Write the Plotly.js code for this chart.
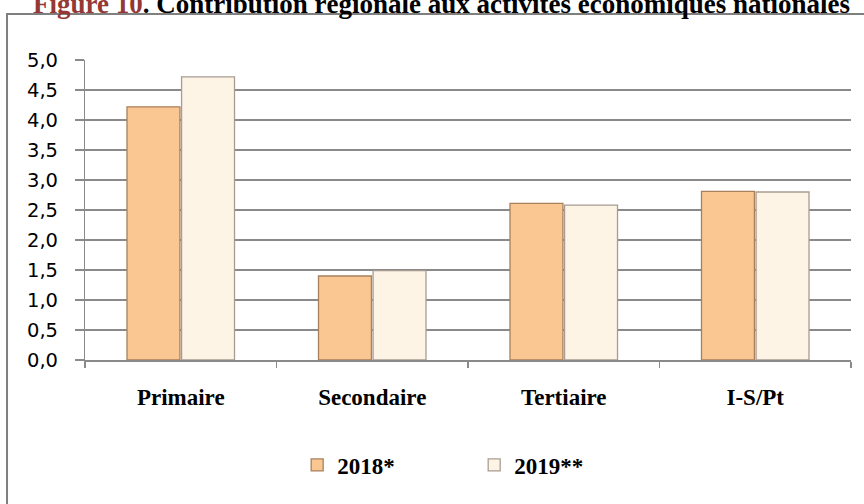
<!DOCTYPE html>
<html><head><meta charset="utf-8">
<script src="https://cdn.plot.ly/plotly-3.0.1.min.js"></script>
<style>html,body{margin:0;padding:0;background:#fff}#chart{width:864px;height:504px}</style>
</head><body><div id="chart"></div>
<script>
const categories = ["Primaire", "Secondaire", "Tertiaire", "I-S/Pt"];
const values2018 = [4.22, 1.40, 2.61, 2.81];
const values2019 = [4.72, 1.49, 2.58, 2.80];
const seriesNames = ["2018*", "2019**"];
const yTicks = [0, 0.5, 1, 1.5, 2, 2.5, 3, 3.5, 4, 4.5, 5];
const yTickLabels = yTicks.map(v => v.toFixed(1).replace('.', ','));

const traces = [
  {type:'bar', name:'<b>' + seriesNames[0] + '</b>', x:categories, y:values2018,
   marker:{color:'#FAC792', line:{color:'#A8805C', width:1.3}}, hoverinfo:'y'},
  {type:'bar', name:'<b>' + seriesNames[1] + '</b>', x:categories, y:values2019,
   marker:{color:'#FDF4E6', line:{color:'#A89C92', width:1.3}}, hoverinfo:'y'}
];
const tickAnnotations = yTicks.map((v, i) => ({
  xref:'paper', yref:'y', x:-0.0326, y:v, xanchor:'right', yanchor:'middle', showarrow:false,
  text:yTickLabels[i], font:{family:'DejaVu Sans, sans-serif', size:19.5, color:'#000'}
}));
const layout = {
  width:864, height:504,
  margin:{l:85, r:13, t:60, b:144},
  paper_bgcolor:'#fff', plot_bgcolor:'#fff',
  separators:',.',
  barmode:'group', bargap:0.43, bargroupgap:0.03,
  showlegend:true,
  legend:{orientation:'h', x:0.277, xanchor:'left', y:-0.35, yanchor:'middle',
          entrywidth:132, entrywidthmode:'pixels', itemwidth:20,
          font:{family:'Liberation Serif, Times New Roman, serif', size:23, color:'#000'}},
  xaxis:{showline:true, linecolor:'#8a8a8a', linewidth:1.5, ticks:'outside', tickson:'boundaries',
         ticklen:6, tickcolor:'#8a8a8a', tickwidth:1.5, showgrid:false, ticklabelstandoff:16,
         tickfont:{family:'Liberation Serif, Times New Roman, serif', size:23, color:'#000'},
         tickprefix:'<b>', ticksuffix:'</b>'},
  yaxis:{range:[0,5], tickvals:yTicks, showticklabels:false, showline:true, linecolor:'#8a8a8a', linewidth:1.5,
         ticks:'outside', ticklen:9, tickcolor:'#8a8a8a', tickwidth:1.5,
         showgrid:true, gridcolor:'#8a8a8a', gridwidth:1.5, zeroline:false},
  shapes:[{type:'rect', xref:'paper', yref:'paper', x0:-0.1018, x1:1.03, y0:-0.5, y1:1.1533,
           line:{color:'#7f7f7f', width:2}, fillcolor:'rgba(0,0,0,0)', layer:'below'}],
  annotations:[{xref:'paper', yref:'paper', x:0.466, y:1.13, xanchor:'center', yanchor:'bottom',
    showarrow:false,
    text:'<b><span style="color:#953735">Figure 10</span>. Contribution régionale aux activités économiques nationales</b>',
    font:{family:'Liberation Serif, Times New Roman, serif', size:27, color:'#000'}}].concat(tickAnnotations)
};
Plotly.newPlot('chart', traces, layout, {displayModeBar:false, staticPlot:true});
</script></body></html>
